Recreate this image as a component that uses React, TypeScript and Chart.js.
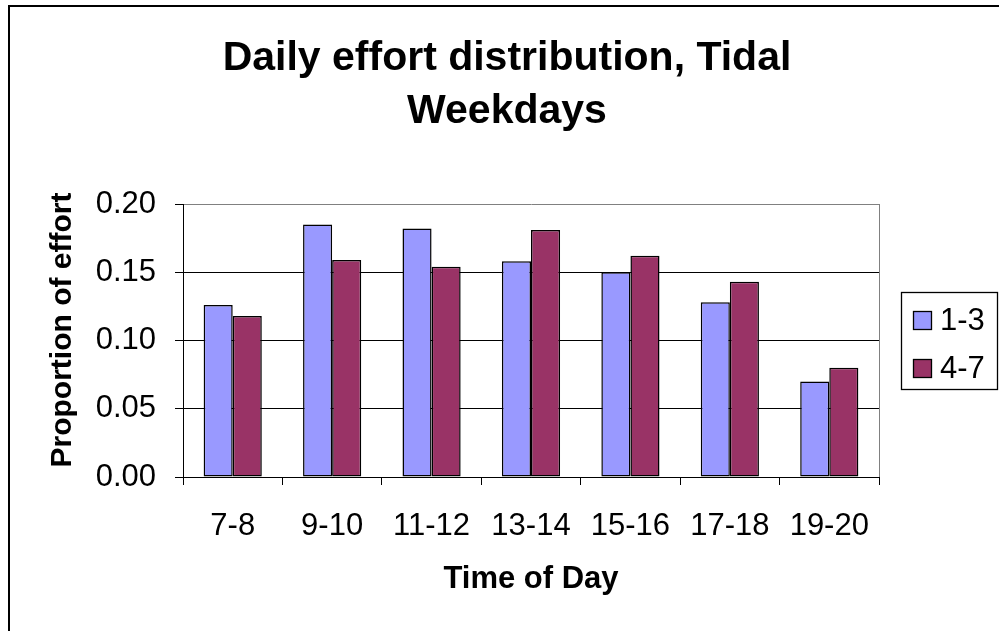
import React, { useEffect, useRef } from "react";
import { Chart, registerables } from "chart.js";

Chart.register(...registerables);

// ---- data ----
const categories = ["7-8", "9-10", "11-12", "13-14", "15-16", "17-18", "19-20"];
const series13 = [0.126, 0.185, 0.182, 0.158, 0.150, 0.128, 0.070];
const series47 = [0.118, 0.159, 0.154, 0.181, 0.162, 0.143, 0.080];
const seriesLabels = ["1-3", "4-7"];
const seriesColors = ["#9999FF", "#993366"];
const yMin = 0;
const yMax = 0.2;
const yStep = 0.05;
const titleLines = ["Daily effort distribution, Tidal", "Weekdays"];
const xTitle = "Time of Day";
const yTitle = "Proportion of effort";

const FONT = '"Liberation Sans", Arial, Helvetica, sans-serif';

const decorPlugin = {
  id: "decor",
  beforeDraw(chart: any) {
    const ctx = chart.ctx;
    ctx.save();
    ctx.fillStyle = "#ffffff";
    ctx.fillRect(0, 0, chart.width, chart.height);
    ctx.strokeStyle = "#000000";
    ctx.lineWidth = 2;
    ctx.beginPath();
    ctx.moveTo(9, chart.height);
    ctx.lineTo(9, 6);
    ctx.lineTo(chart.width, 6);
    ctx.stroke();
    ctx.restore();
  },
  beforeDatasetsDraw(chart: any) {
    const ctx = chart.ctx;
    const a = chart.chartArea;
    ctx.save();
    ctx.strokeStyle = "#808080";
    ctx.lineWidth = 1;
    ctx.beginPath();
    ctx.moveTo(Math.round(a.right) + 0.5, a.top);
    ctx.lineTo(Math.round(a.right) + 0.5, a.bottom);
    ctx.stroke();
    ctx.restore();
  },
  afterDraw(chart: any) {
    const ctx = chart.ctx;
    ctx.save();
    // y-axis title
    ctx.translate(63, 330);
    ctx.rotate(-Math.PI / 2);
    ctx.fillStyle = "#000000";
    ctx.font = `bold 30px ${FONT}`;
    ctx.textAlign = "center";
    ctx.textBaseline = "middle";
    ctx.fillText(yTitle, 0, 0);
    ctx.restore();

    ctx.save();
    ctx.strokeStyle = "#000000";
    ctx.lineWidth = 1.3;
    ctx.strokeRect(901.5, 292.5, 96, 97);
    chart.data.datasets.forEach((ds: any, i: number) => {
      const cy = 320.5 + i * 48;
      ctx.fillStyle = ds.backgroundColor;
      ctx.fillRect(913, cy - 9.5, 19, 19);
      ctx.lineWidth = 1.3;
      ctx.strokeStyle = "#000000";
      ctx.strokeRect(913.5, cy - 9, 18, 18);
      ctx.fillStyle = "#000000";
      ctx.font = `31px ${FONT}`;
      ctx.textBaseline = "middle";
      ctx.textAlign = "left";
      ctx.fillText(ds.label, 940, cy + 1);
    });
    ctx.restore();
  },
};

export default function App() {
  const canvasRef = useRef<HTMLCanvasElement | null>(null);

  useEffect(() => {
    if (!canvasRef.current) return;
    const chart = new Chart(canvasRef.current, {
      type: "bar",
      data: {
        labels: categories,
        datasets: [
          {
            label: seriesLabels[0],
            data: series13,
            backgroundColor: seriesColors[0],
            borderColor: "#000000",
            borderWidth: 1.5,
            borderSkipped: false,
            categoryPercentage: 0.585,
            barPercentage: 1,
          },
          {
            label: seriesLabels[1],
            data: series47,
            backgroundColor: seriesColors[1],
            borderColor: "#000000",
            borderWidth: 1.5,
            borderSkipped: false,
            categoryPercentage: 0.585,
            barPercentage: 1,
          },
        ],
      },
      options: {
        animation: false,
        responsive: true,
        maintainAspectRatio: false,
        layout: { padding: { left: 15, right: 0, top: 0, bottom: 0 } },
        plugins: {
          legend: { display: false },
          tooltip: { enabled: false },
          title: {
            display: true,
            text: titleLines,
            color: "#000000",
            font: { family: FONT, size: 41, weight: "bold", lineHeight: 53 / 41 },
            padding: { top: 32.5, bottom: 65.5 },
          },
        },
        scales: {
          x: {
            type: "category",
            grid: {
              display: true,
              drawOnChartArea: false,
              drawTicks: true,
              tickLength: 8,
              color: "#000000",
              tickColor: "#000000",
              offset: true,
            },
            border: { display: true, color: "#000000", width: 1 },
            ticks: {
              color: "#000000",
              font: { family: FONT, size: 31 },
              padding: 23,
              maxRotation: 0,
              autoSkip: false,
            },
            title: {
              display: true,
              text: xTitle,
              color: "#000000",
              font: { family: FONT, size: 31, weight: "bold" },
              padding: { top: 0, bottom: 33.4 },
            },
            afterFit: (s: any) => {
              s.height = 154;
            },
          },
          y: {
            type: "linear",
            position: "left",
            min: yMin,
            max: yMax,
            grid: {
              display: true,
              drawOnChartArea: true,
              drawTicks: true,
              tickLength: 8,
              lineWidth: 1,
              color: (c: any) =>
                c.tick && Math.abs(c.tick.value - yMax) < 1e-9 ? "#808080" : "#000000",
              tickColor: "#000000",
            },
            border: { display: true, color: "#000000", width: 1 },
            ticks: {
              stepSize: yStep,
              color: "#000000",
              font: { family: FONT, size: 31 },
              padding: 19,
              callback: (v: any) => Number(v).toFixed(2),
            },
            title: { display: false },
            afterFit: (s: any) => {
              s.width = 168;
            },
          },
          yRight: {
            type: "linear",
            position: "right",
            display: true,
            grid: { display: false },
            border: { display: false },
            ticks: { display: false },
            afterFit: (s: any) => {
              s.width = 120;
            },
          },
        },
      },
      plugins: [decorPlugin],
    });
    return () => chart.destroy();
  }, []);

  return (
    <div
      style={{
        position: "fixed",
        left: 0,
        top: 0,
        width: 999,
        height: 631,
        overflow: "hidden",
        background: "#ffffff",
      }}
    >
      <canvas ref={canvasRef} />
    </div>
  );
}
